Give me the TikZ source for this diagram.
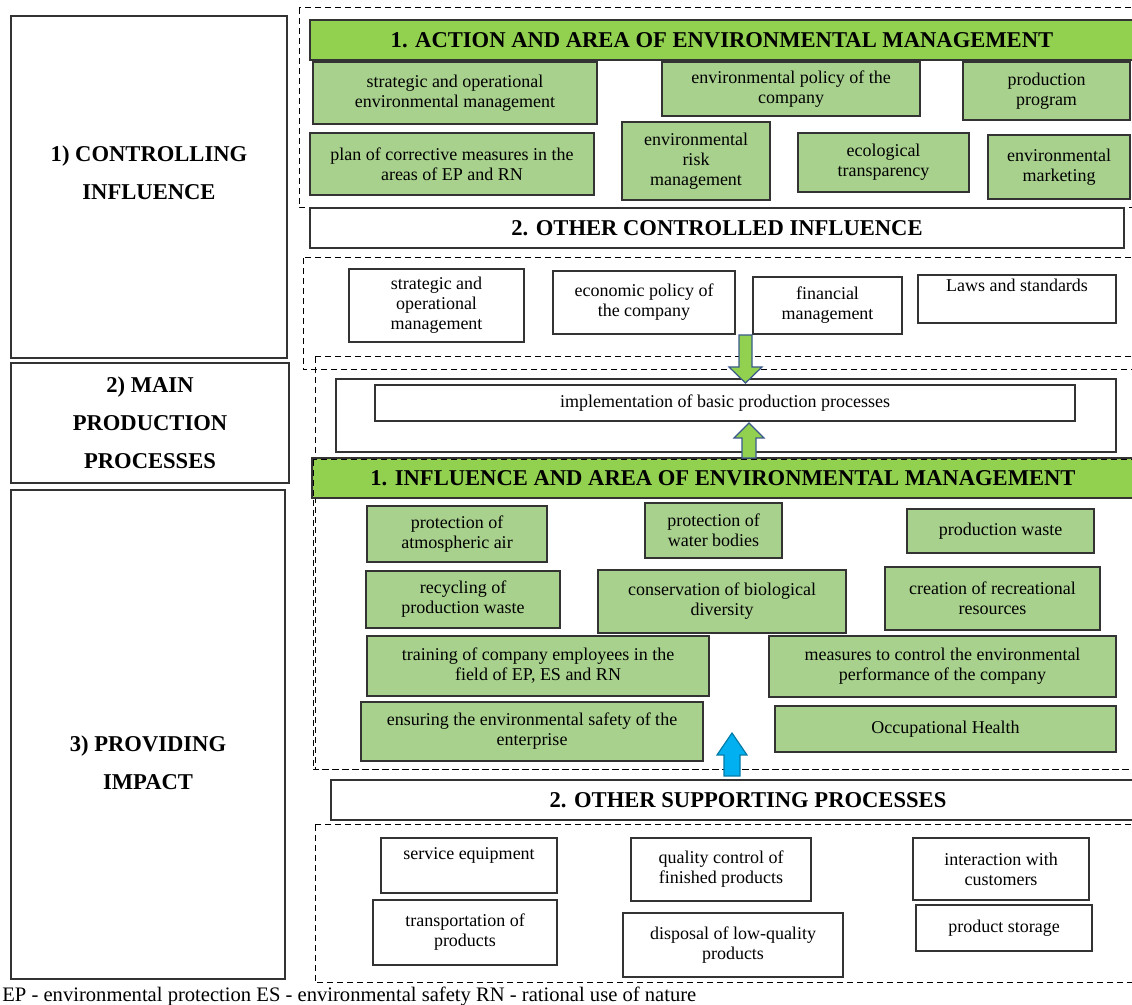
\documentclass[tikz,border=0pt]{standalone}
\usepackage{fontspec}
\setmainfont{Liberation Serif}
\definecolor{headgreen}{HTML}{92D050}
\definecolor{boxgreen}{HTML}{A9D18E}
\definecolor{boxline}{HTML}{333333}
\definecolor{arrowline}{HTML}{3A5A8C}
\definecolor{arrowblue}{HTML}{00B0F0}
\tikzset{
    wh/.style 2 args={minimum width=#1*0.5pt, minimum height=#2*0.5pt},
    cell/.style={draw=boxline, line width=0.7pt, align=center, inner sep=1pt,
            font=\fontsize{9}{10}\selectfont},
    gcell/.style={cell, fill=boxgreen},
    wcell/.style={cell, fill=white},
    headbar/.style={draw=boxline, line width=0.7pt, align=center, inner sep=0pt,
            font=\bfseries\fontsize{11.3}{13}\selectfont},
    sidetext/.style={align=center, font=\bfseries\fontsize{11.3}{19}\selectfont},
    area/.style={draw, dash pattern=on 3pt off 2pt, line width=0.5pt},
    blockarrow/.style={line width=0.6pt, draw=arrowline, line join=miter},
}
\begin{document}
\begin{tikzpicture}[x=0.5pt, y=-0.5pt]
        \clip (0,0) rectangle (1132,1005);
        %left column
        \node[wcell, wh={276}{342}] (ctrl) at (149,187) {};
        \node[sidetext] (ctrltxt) at (149,173) {1) CONTROLLING\\INFLUENCE};
        \node[wcell, wh={278}{120}, sidetext] (mainproc) at (150,423) {2) MAIN\\PRODUCTION\\PROCESSES};
        \node[wcell, wh={274}{489}] (prov) at (148,734.5) {};
        \node[sidetext] (provtxt) at (148,763) {3) PROVIDING\\IMPACT};
        %dashed areas
        \draw[area] (299,8) rectangle (1140,208);
        \draw[area] (303,258) rectangle (1140,370);
        \draw[area] (315,357) rectangle (1140,770);
        %1. action and area
        \node[headbar, fill=headgreen, wh={824}{40}] (acthead) at (722,40) {1. ACTION AND AREA OF ENVIRONMENTAL MANAGEMENT};
        \node[gcell, wh={284}{62}] (stratenv) at (455,93) {strategic and operational\\environmental management};
        \node[gcell, wh={258}{54}] (envpol) at (791,89) {environmental policy of the\\company};
        \node[gcell, wh={167}{58}] (prog) at (1046.5,91) {production\\program};
        \node[gcell, wh={284}{62}] (plan) at (452,164) {plan of corrective measures in the\\areas of EP and RN};
        \node[gcell, wh={148}{78}] (risk) at (696,161) {environmental\\risk\\management};
        \node[gcell, wh={171}{59}] (transp) at (883.5,162.5) {ecological\\transparency};
        \node[gcell, wh={142}{64}] (mkt) at (1059,167) {environmental\\marketing};
        %2. other controlled influence
        \node[headbar, fill=white, wh={814}{40}] (ctrlhead) at (717,228) {2. OTHER CONTROLLED INFLUENCE};
        \node[wcell, wh={175}{73}] (stratop) at (436.5,305.5) {strategic and\\operational\\management};
        \node[wcell, wh={182}{63}] (ecpol) at (644,302.5) {economic policy of\\the company};
        \node[wcell, wh={149}{57}] (fin) at (827.5,305.5) {financial\\management};
        \node[wcell, wh={198}{48}] (laws) at (1017,299) {Laws and standards\\[4pt]\mbox{}};
        %main production
        \node[wcell, wh={780}{73}] (implbox) at (726,415.5) {};
        \node[wcell, wh={700}{36}] (impl) at (725,403) {implementation of basic production processes};
        %1. influence and area
        \node[headbar, fill=headgreen, wh={822}{40}] (inflhead) at (723,478) {1. INFLUENCE AND AREA OF ENVIRONMENTAL MANAGEMENT};
        \draw[area] (313,460) rectangle (1140,770);
        \node[gcell, wh={180}{56}] (air) at (457,534) {protection of\\atmospheric air};
        \node[gcell, wh={137}{55}] (water) at (713.5,530.5) {protection of\\water bodies};
        \node[gcell, wh={187}{44}] (pwaste) at (1000.5,531) {production waste};
        \node[gcell, wh={194}{57}] (recyc) at (463,599.5) {recycling of\\production waste};
        \node[gcell, wh={248}{63}] (biodiv) at (722,601.5) {conservation of biological\\diversity};
        \node[gcell, wh={215}{63}] (recr) at (992.5,598.5) {creation of recreational\\resources};
        \node[gcell, wh={342}{60}] (train) at (538,666) {training of company employees in the\\field of EP, ES and RN};
        \node[gcell, wh={347}{61}] (perf) at (942.5,666.5) {measures to control the environmental\\performance of the company};
        \node[gcell, wh={342}{59}] (safety) at (532,731.5) {ensuring the environmental safety of the\\enterprise};
        \node[gcell, wh={341}{46}] (health) at (945.5,729) {Occupational Health};
        %2. other supporting processes
        \node[headbar, fill=white, wh={834}{40}] (supphead) at (748,800) {2. OTHER SUPPORTING PROCESSES};
        \draw[area] (315,825) rectangle (1140,983);
        \node[wcell, wh={176}{55}] (serv) at (469,865.5) {service equipment\\[2pt]\mbox{}};
        \node[wcell, wh={180}{63}] (qual) at (721,869.5) {quality control of\\finished products};
        \node[wcell, wh={176}{62}] (inter) at (1001,869) {interaction with\\customers};
        \node[wcell, wh={184}{65}] (transport) at (465,932.5) {transportation of\\products};
        \node[wcell, wh={220}{64}] (disp) at (733,945) {disposal of low-quality\\products};
        \node[wcell, wh={176}{46}] (stor) at (1004,928) {product storage};
        %arrows
        \draw[blockarrow, fill=headgreen] (739,335) -- (752,335) -- (752,367) -- (762,367) -- (745.5,383) -- (729,367) -- (739,367) -- cycle;
        \draw[blockarrow, fill=headgreen] (742,458) -- (756,458) -- (756,438) -- (764,438) -- (749,423) -- (734,438) -- (742,438) -- cycle;
        \draw[blockarrow, draw=arrowblue!70!black, fill=arrowblue] (724,776) -- (740,776) -- (740,755) -- (747,755) -- (732,733) -- (717,755) -- (724,755) -- cycle;
        %footnote
        \node[anchor=west, inner sep=0pt, font=\fontsize{10.3}{12}\selectfont] (note) at (2,996) {EP - environmental protection ES - environmental safety RN - rational use of nature};
\end{tikzpicture}
\end{document}
